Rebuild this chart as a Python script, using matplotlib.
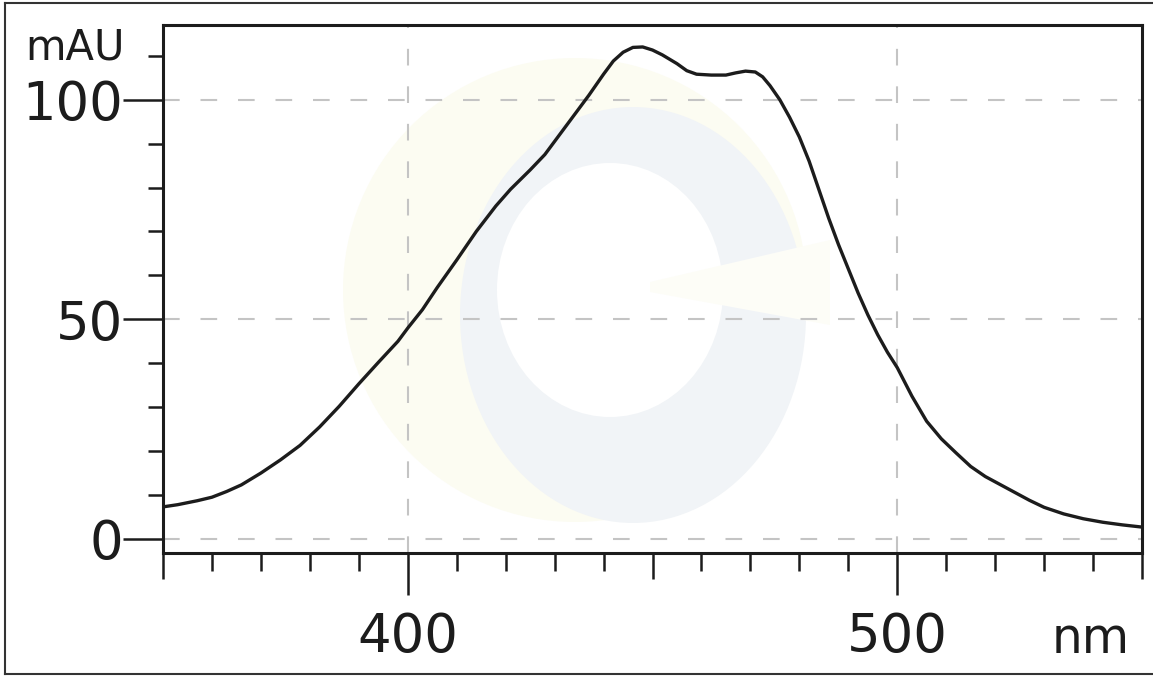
import matplotlib.pyplot as plt
from matplotlib.patches import Circle, Ellipse, Polygon
from matplotlib.lines import Line2D

# absorbance spectrum
wavelength = [350, 353, 357, 360, 363, 366, 370, 374, 378, 382, 386, 390, 394,
              398, 400, 403, 406, 410, 414, 418, 421, 425, 428, 431, 434, 437,
              440, 442, 444, 446, 448, 450, 452, 455, 457, 459, 462, 465, 467,
              469, 471, 472.5, 474, 476, 478, 480, 482, 484, 486, 488, 490, 492,
              494, 496, 498, 500, 503, 506, 509, 512, 515, 518, 521, 524, 527,
              530, 534, 538, 542, 546, 550]
absorbance = [7.3, 7.8, 8.7, 9.5, 10.8, 12.3, 15.0, 18.0, 21.3, 25.5, 30.2,
              35.3, 40.2, 45.0, 48.0, 52.2, 57.2, 63.5, 70.0, 75.8, 79.6, 84.0,
              87.5, 92.0, 96.5, 101.0, 105.8, 108.8, 110.8, 111.9, 112.0, 111.3,
              110.2, 108.2, 106.6, 105.8, 105.6, 105.6, 106.1, 106.5, 106.3,
              105.2, 103.2, 100.0, 96.0, 91.5, 86.0, 79.5, 73.0, 67.0, 61.5,
              56.0, 51.0, 46.5, 42.5, 39.0, 32.5, 26.8, 22.8, 19.6, 16.5, 14.2,
              12.4, 10.6, 8.8, 7.2, 5.7, 4.6, 3.8, 3.2, 2.7]

x_ticks = [350, 400, 450, 500, 550]
x_ticklabels = ['', '400', '', '500', '']
x_minor = list(range(350, 551, 10))
y_ticks = [0, 50, 100]
y_ticklabels = ['0', '50', '100']
y_minor = list(range(0, 111, 10))
x_grid = [400, 500]
y_grid = [0, 50, 100]

ink = '#1c1c1c'
plt.rcParams['font.family'] = ['DejaVu Sans']

fig = plt.figure(figsize=(11.53, 6.77), dpi=100)

# faint logo watermark behind the plot (pixel coords)
bg = fig.add_axes([0, 0, 1, 1], zorder=0)
bg.set_xlim(0, 1153)
bg.set_ylim(677, 0)
bg.axis('off')
bg.add_patch(Circle((575, 290), 232, color='#fcfcf2', lw=0))
bg.add_patch(Ellipse((633, 315), 346, 416, color='#f1f4f7', lw=0))
bg.add_patch(Ellipse((610, 290), 226, 254, color='white', lw=0))
bg.add_patch(Polygon([(650, 282), (830, 240), (830, 325), (650, 292)],
                     closed=True, color='#fdfdf7', lw=0))

# outer frame
fig.add_artist(Line2D([5 / 1153, 5 / 1153], [0.004, 0.996], color='#333333', lw=1.5))
fig.add_artist(Line2D([5 / 1153, 1], [0.996, 0.996], color='#333333', lw=1.5))
fig.add_artist(Line2D([5 / 1153, 1], [0.004, 0.004], color='#333333', lw=1.5))

ax = fig.add_axes([163 / 1153, 124 / 677, 979 / 1153, 528 / 677], zorder=1)
ax.set_facecolor('none')

for g in x_grid:
    ax.axvline(g, color='#c4c4c4', lw=1.5, ls=(0, (8, 10)), zorder=1)
for g in y_grid:
    ax.axhline(g, color='#c4c4c4', lw=1.5, ls=(0, (8, 10)), zorder=1)

ax.plot(wavelength, absorbance, color=ink, lw=2.4, zorder=3,
        solid_joinstyle='round')

ax.set_xlim(350, 550)
ax.set_ylim(-3.2, 117)

for side in ['top', 'right', 'left', 'bottom']:
    ax.spines[side].set_linewidth(2.2)
    ax.spines[side].set_color(ink)

ax.set_xticks(x_ticks)
ax.set_xticklabels(x_ticklabels)
ax.set_xticks(x_minor, minor=True)
ax.set_yticks(y_ticks)
ax.set_yticklabels(y_ticklabels)
ax.set_yticks(y_minor, minor=True)

ax.tick_params(axis='x', which='major', direction='out', length=30, width=1.8,
               color=ink, labelsize=38, labelcolor=ink, pad=12)
ax.tick_params(axis='x', which='minor', direction='out', length=13, width=1.8, color=ink)
ax.tick_params(axis='y', which='major', direction='out', length=29, width=1.8,
               color=ink, labelsize=38, labelcolor=ink, pad=0)
ax.tick_params(axis='y', which='minor', direction='out', length=11, width=1.8, color=ink)

# half-way ticks (350, 450, 550) are shorter than the labelled ones
for t, v in zip(ax.xaxis.get_major_ticks(), x_ticks):
    if v not in (400, 500):
        t.tick1line.set_markersize(19)

fig.text(25 / 1153, 1 - 60 / 677, 'mAU', fontsize=30, color=ink, ha='left', va='baseline')
fig.text(1052 / 1153, 1 - 653 / 677, 'nm', fontsize=35, color=ink, ha='left', va='baseline')

fig.savefig('out.png', dpi=100)
